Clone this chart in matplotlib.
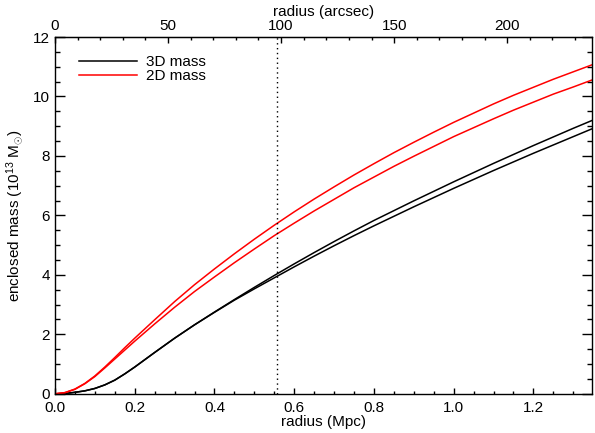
import matplotlib
matplotlib.use("Agg")
import matplotlib.pyplot as plt
import numpy as np

plt.rcParams['font.family'] = ['Liberation Sans', 'DejaVu Sans']
plt.rcParams['mathtext.fontset'] = 'custom'
plt.rcParams['mathtext.rm'] = 'Liberation Sans'
plt.rcParams['mathtext.it'] = 'Liberation Sans:italic'

# radius in Mpc
radius = [0.0, 0.025, 0.05, 0.075, 0.1, 0.125, 0.15, 0.175, 0.2, 0.25, 0.3,
          0.35, 0.4, 0.45, 0.5, 0.55, 0.6, 0.65, 0.7, 0.75, 0.8, 0.85, 0.9,
          0.95, 1.0, 1.05, 1.1, 1.15, 1.2, 1.25, 1.3, 1.35]
# enclosed mass (1e13 Msun)
mass3d_a = [0.0, 0.01, 0.05, 0.1, 0.18, 0.3, 0.46, 0.67, 0.9, 1.39, 1.87,
            2.32, 2.75, 3.17, 3.58, 3.98, 4.37, 4.75, 5.12, 5.48, 5.83, 6.16,
            6.49, 6.81, 7.13, 7.44, 7.75, 8.05, 8.35, 8.64, 8.93, 9.21]
mass3d_b = [0.0, 0.01, 0.05, 0.1, 0.18, 0.3, 0.46, 0.67, 0.9, 1.39, 1.87,
            2.32, 2.74, 3.15, 3.53, 3.9, 4.27, 4.63, 4.98, 5.32, 5.65, 5.97,
            6.29, 6.6, 6.91, 7.21, 7.51, 7.8, 8.09, 8.37, 8.65, 8.93]
mass2d_a = [0.0, 0.04, 0.16, 0.35, 0.6, 0.9, 1.22, 1.55, 1.87, 2.49, 3.1,
            3.67, 4.2, 4.71, 5.2, 5.67, 6.12, 6.55, 6.96, 7.36, 7.74, 8.11,
            8.46, 8.8, 9.13, 9.44, 9.75, 10.04, 10.31, 10.58, 10.83, 11.08]
mass2d_b = [0.0, 0.04, 0.15, 0.34, 0.58, 0.87, 1.17, 1.47, 1.77, 2.35, 2.91,
            3.44, 3.93, 4.41, 4.87, 5.32, 5.74, 6.15, 6.54, 6.93, 7.29, 7.65,
            7.99, 8.32, 8.65, 8.95, 9.25, 9.54, 9.81, 10.08, 10.32, 10.57]
r_mark = 0.556
mpc_per_arcsec = 0.005671

fig = plt.figure(figsize=(5.95, 4.33), dpi=100)
ax = fig.add_axes([0.0924, 0.0905, 0.9026, 0.824])

ax.plot(radius, mass3d_a, color='black', lw=1.1, label='3D mass')
ax.plot(radius, mass3d_b, color='black', lw=1.1)
ax.plot(radius, mass2d_a, color='red', lw=1.1, label='2D mass')
ax.plot(radius, mass2d_b, color='red', lw=1.1)
ax.axvline(r_mark, color='black', ls=(0, (1, 2.5)), lw=1)

ax.set_xlim(0, 1.347)
ax.set_ylim(0, 12)
ax.set_xticks(np.arange(0, 1.3, 0.2))
ax.set_xticks(np.arange(0, 1.35, 0.05), minor=True)
ax.set_yticks(np.arange(0, 13, 2))
ax.set_yticks(np.arange(0, 12.1, 0.5), minor=True)
ax.xaxis.set_major_formatter(plt.FormatStrFormatter('%.1f'))
ax.tick_params(axis='x', which='major', direction='in', length=4.5, width=1, labelsize=11, pad=5)
ax.tick_params(axis='x', which='minor', direction='in', length=2.4, width=1)
ax.tick_params(axis='y', which='major', direction='in', length=7.5, width=1, labelsize=11, right=True)
ax.tick_params(axis='y', which='minor', direction='in', length=3.6, width=1, right=True)
ax.set_xlabel('radius (Mpc)', fontsize=11, labelpad=0)
ax.set_ylabel(r'enclosed mass (10$^{13}$ M$_{\odot}$)', fontsize=11, labelpad=6)

top = ax.secondary_xaxis('top', functions=(lambda r: r / mpc_per_arcsec,
                                           lambda a: a * mpc_per_arcsec))
top.set_xticks(np.arange(0, 201, 50))
top.set_xticks(np.arange(0, 240, 10), minor=True)
top.tick_params(which='major', direction='in', length=4.5, width=1, labelsize=11, pad=3)
top.tick_params(which='minor', direction='in', length=2.2, width=1)
top.set_xlabel('radius (arcsec)', fontsize=11, labelpad=2)

for sp in ax.spines.values():
    sp.set_linewidth(1)

ax.legend(loc='upper left', bbox_to_anchor=(0.025, 0.98), frameon=False,
          fontsize=11, handlelength=3.8, labelspacing=0.0, handletextpad=0.6,
          borderaxespad=0.3)

plt.savefig('out.png', dpi=100)
